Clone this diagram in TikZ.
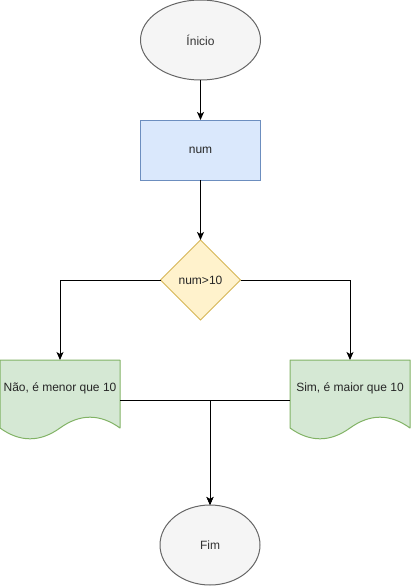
\documentclass[tikz,border=0pt]{standalone}
\usepackage{fontspec}
\setmainfont{Liberation Sans}
\usetikzlibrary{shapes.geometric,arrows.meta}
\definecolor{grayfill}{HTML}{F5F5F5}
\definecolor{graystroke}{HTML}{666666}
\definecolor{graytext}{HTML}{333333}
\definecolor{bluefill}{HTML}{DAE8FC}
\definecolor{bluestroke}{HTML}{6C8EBF}
\definecolor{yellowfill}{HTML}{FFF2CC}
\definecolor{yellowstroke}{HTML}{D6B656}
\definecolor{greenfill}{HTML}{D5E8D4}
\definecolor{greenstroke}{HTML}{82B366}
\tikzset{
  x=1pt, y=-1pt,
  every node/.style={font=\fontsize{12}{14}\selectfont, inner sep=0pt, outer sep=0pt},
  terminal/.style={ellipse, draw=graystroke, fill=grayfill, text=graytext, line width=1pt, minimum width=#1, minimum height=80pt},
  procbox/.style={rectangle, draw=bluestroke, fill=bluefill, line width=1pt, minimum width=120pt, minimum height=60pt, text=black!85},
  decision/.style={diamond, draw=yellowstroke, fill=yellowfill, line width=1pt, minimum width=80pt, minimum height=80pt, text=black!85},
  docframe/.style={rectangle, draw=none, minimum width=120pt, minimum height=80pt},
  docshape/.style={draw=greenstroke, fill=greenfill, line width=1pt, line join=round},
  doctext/.style={text=black!85},
  flow/.style={draw=black, line width=1pt, -{Stealth[length=8pt,width=7pt,inset=2pt]}},
  docpath/.pic={
    \path[docshape] (0,0) -- (120,0) -- (120,68)
      .. controls (100,53.6) and (80,53.6) .. (60,68)
      .. controls (40,82.4) and (20,82.4) .. (0,68) -- cycle;
  },
}
\begin{document}
\begin{tikzpicture}
\useasboundingbox (0,0) rectangle (411,586);
\node[terminal=120pt] (inicio) at (200.5,40) {Ínicio};
\node[procbox] (num) at (200.5,150) {num};
\node[decision] (dec) at (200.5,280) {num>10};
\node[docframe] (nao) at (60,400) {};
\node[docframe] (sim) at (350,400) {};
\pic at (nao.north west) {docpath};
\pic at (sim.north west) {docpath};
\node[doctext] (naotext) at (60,388) {Não, é menor que 10};
\node[doctext] (simtext) at (350,388) {Sim, é maior que 10};
\node[terminal=100pt] (fim) at (210,545) {Fim};
\draw[flow] (inicio) -- (num);
\draw[flow] (num) -- (dec);
\draw[flow] (dec.west) -| (nao.north);
\draw[flow] (dec.east) -| (sim.north);
\draw[flow] (nao.east) -| (fim.north);
\draw[flow] (sim.west) -| (fim.north);
\end{tikzpicture}
\end{document}
